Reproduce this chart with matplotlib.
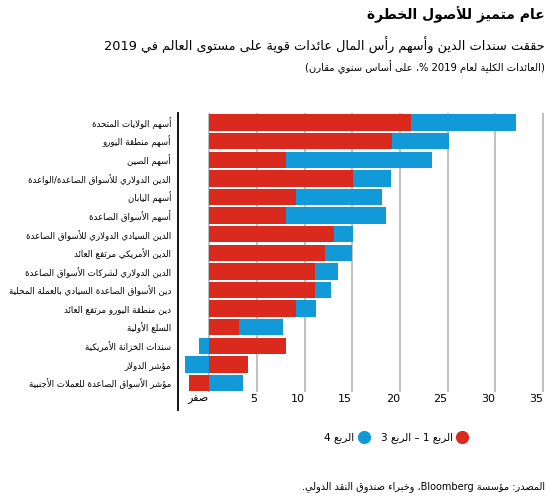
import re
import numpy as np
import matplotlib
matplotlib.use('Agg')
import matplotlib.pyplot as plt
from matplotlib.lines import Line2D

#### DATA ####
labels = ['أسهم الولايات المتحدة', 'أسهم منطقة اليورو', 'أسهم الصين',
          'الدين الدولاري للأسواق الصاعدة/الواعدة', 'أسهم اليابان',
          'أسهم الأسواق الصاعدة', 'الدين السيادي الدولاري للأسواق الصاعدة',
          'الدين الأمريكي مرتفع العائد', 'الدين الدولاري لشركات الأسواق الصاعدة',
          'دين الأسواق الصاعدة السيادي بالعملة المحلية', 'دين منطقة اليورو مرتفع العائد',
          'السلع الأولية', 'سندات الخزانة الأمريكية', 'مؤشر الدولار',
          'مؤشر الأسواق الصاعدة للعملات الأجنبية']
q1_q3 = [21.2, 19.2, 8.1, 15.1, 9.1, 8.1, 13.1, 12.1, 11.1, 11.1, 9.1, 3.1, 8.1, 4.1, -2.1]
q4 = [10.9, 5.9, 15.2, 4.0, 9.0, 10.4, 1.95, 2.9, 2.4, 1.7, 2.1, 4.6, -1.05, -2.55, 3.6]
xticks = [0, 5, 10, 15, 20, 25, 30, 35]
xticklabels = ['صفر', '5', '10', '15', '20', '25', '30', '35']

title = 'عام متميز للأصول الخطرة'
subtitle = 'حققت سندات الدين وأسهم رأس المال عائدات قوية على مستوى العالم في 2019'
subtitle2 = '(العائدات الكلية لعام 2019 %، على أساس سنوي مقارن)'
leg_q13 = 'الربع 1 – الربع 3'
leg_q4 = 'الربع 4'
source = 'المصدر: مؤسسة Bloomberg، وخبراء صندوق النقد الدولي.'

#### ARABIC SHAPING (matplotlib has no bidi / joining) ####
_tab = [(0x621, 0xFE80, 1), (0x622, 0xFE81, 2), (0x623, 0xFE83, 2), (0x624, 0xFE85, 2),
        (0x625, 0xFE87, 2), (0x626, 0xFE89, 4), (0x627, 0xFE8D, 2), (0x628, 0xFE8F, 4),
        (0x629, 0xFE93, 2), (0x62A, 0xFE95, 4), (0x62B, 0xFE99, 4), (0x62C, 0xFE9D, 4),
        (0x62D, 0xFEA1, 4), (0x62E, 0xFEA5, 4), (0x62F, 0xFEA9, 2), (0x630, 0xFEAB, 2),
        (0x631, 0xFEAD, 2), (0x632, 0xFEAF, 2), (0x633, 0xFEB1, 4), (0x634, 0xFEB5, 4),
        (0x635, 0xFEB9, 4), (0x636, 0xFEBD, 4), (0x637, 0xFEC1, 4), (0x638, 0xFEC5, 4),
        (0x639, 0xFEC9, 4), (0x63A, 0xFECD, 4), (0x641, 0xFED1, 4), (0x642, 0xFED5, 4),
        (0x643, 0xFED9, 4), (0x644, 0xFEDD, 4), (0x645, 0xFEE1, 4), (0x646, 0xFEE5, 4),
        (0x647, 0xFEE9, 4), (0x648, 0xFEED, 2), (0x649, 0xFEEF, 2), (0x64A, 0xFEF1, 4)]
BASE = {chr(a): b for a, b, n in _tab}
NF = {chr(a): n for a, b, n in _tab}
LAM_ALEF = {'\u0622': 0xFEF5, '\u0623': 0xFEF7, '\u0625': 0xFEF9, '\u0627': 0xFEFB}
MIRROR = {'(': ')', ')': '('}


def shape(s):
    out = []
    i = 0
    while i < len(s):
        c = s[i]
        if c not in BASE:
            out.append(c)
            i += 1
            continue
        prev = s[i-1] if i > 0 else ''
        jp = NF.get(prev, 0) == 4
        nxt = s[i+1] if i + 1 < len(s) else ''
        if c == '\u0644' and nxt in LAM_ALEF:
            out.append(chr(LAM_ALEF[nxt] + (1 if jp else 0)))
            i += 2
            continue
        jn = NF[c] == 4 and NF.get(nxt, 0) > 1
        if NF[c] == 1:
            f = 0
        elif NF[c] == 2:
            f = 1 if jp else 0
        else:
            f = (3 if jn else 1) if jp else (2 if jn else 0)
        out.append(chr(BASE[c] + f))
        i += 1
    return out


def ar(s):
    shaped = ''.join(shape(s))
    toks = re.findall(r'[A-Za-z0-9]+|.', shaped)
    return ''.join(MIRROR.get(t, t) for t in toks[::-1])


#### PLOT ####
plt.rcParams['font.family'] = ['DejaVu Sans']
red = '#DA2A1E'
blue = '#129AD8'

r = np.array(q1_q3)
b = np.array(q4)
y = np.arange(len(labels))
b_left = np.where(np.sign(b) == np.sign(r), r, 0)

fig = plt.figure(figsize=(5.5, 5.03), dpi=100)
ax = fig.add_axes([178/550, 1-392.3/503, 370/550, (392.3-113.3)/503])

for xv in xticks:
    ax.axvline(xv, color='#b5b5b5', lw=1.2, zorder=0)
ax.barh(y, r, height=0.88, color=red, zorder=2)
ax.barh(y, b, left=b_left, height=0.88, color=blue, zorder=2)

ax.set_xlim(-3.25, 35.5)
ax.set_ylim(14.5, -0.5)
ax.set_yticks(y)
ax.set_yticklabels([ar(l) for l in labels], fontsize=6.2)
ax.set_xticks(xticks)
ax.set_xticklabels([ar(t) for t in xticklabels], fontsize=8, ha='right')
ax.tick_params(axis='x', length=0, pad=1.5)
ax.tick_params(axis='y', length=0, pad=5)
for s in ['top', 'right', 'bottom', 'left']:
    ax.spines[s].set_visible(False)
ax.plot([0, 0], [1, -0.065], transform=ax.transAxes, color='black', lw=1.3, clip_on=False)

fig.text(545/550, 1-15/503, ar(title), ha='right', va='center', fontsize=10, fontweight='bold')
fig.text(545/550, 1-45/503, ar(subtitle), ha='right', va='center', fontsize=9.3)
fig.text(545/550, 1-67/503, ar(subtitle2), ha='right', va='center', fontsize=7.2)

handles = [Line2D([], [], marker='o', ls='', color=blue, markersize=8.5),
           Line2D([], [], marker='o', ls='', color=red, markersize=8.5)]
fig.legend(handles, [ar(leg_q4), ar(leg_q13)], loc='center', bbox_to_anchor=(396/550, 1-438/503),
           ncol=2, frameon=False, markerfirst=False, fontsize=7.5, columnspacing=1.15,
           handletextpad=0.4, handlelength=1.0)

fig.text(545/550, 1-487/503, ar(source), ha='right', va='center', fontsize=7)

plt.savefig('out.png', dpi=100)
